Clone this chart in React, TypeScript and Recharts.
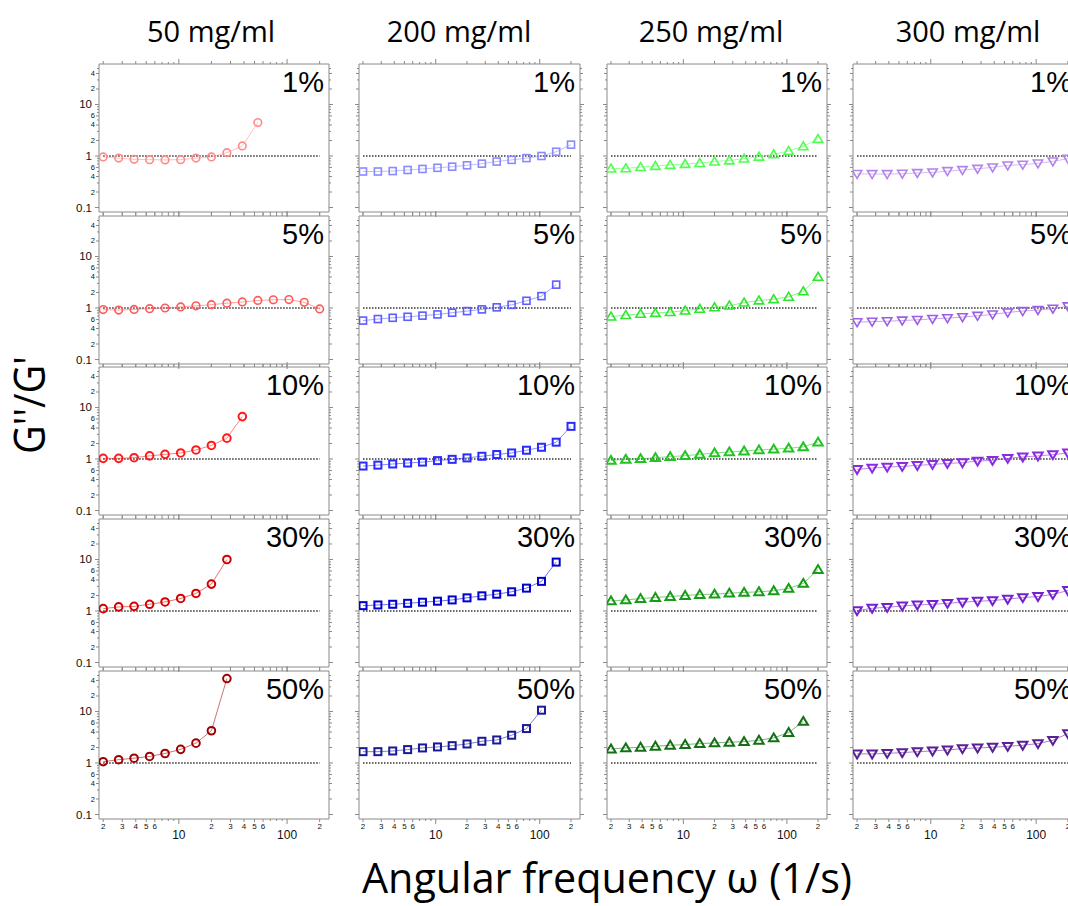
import * as React from 'react'
import { LineChart, Line, XAxis, YAxis, ReferenceLine } from 'recharts'

// angular frequency, 7 points per decade (1/s)
const freq = [2, 2.78, 3.86, 5.37, 7.46, 10.4, 14.4, 20, 27.8, 38.6, 53.7, 74.6, 104, 144, 200]

const xTicks = [2, 3, 4, 5, 6, 7, 8, 9, 10, 20, 30, 40, 50, 60, 70, 80, 90, 100, 200]
const yTicks = [0.1, 0.2, 0.3, 0.4, 0.5, 0.6, 0.7, 0.8, 0.9, 1, 2, 3, 4, 5, 6, 7, 8, 9, 10, 20, 30, 40, 50]

const concentrations = ['50 mg/ml', '200 mg/ml', '250 mg/ml', '300 mg/ml']
const strains = ['1%', '5%', '10%', '30%', '50%']

// G''/G' per concentration and strain
const c50_1 = [0.96, 0.91, 0.86, 0.85, 0.84, 0.85, 0.91, 0.96, 1.16, 1.57, 4.46]
const c50_5 = [0.93, 0.91, 0.94, 0.97, 1.0, 1.05, 1.1, 1.16, 1.24, 1.31, 1.4, 1.44, 1.46, 1.29, 0.96]
const c50_10 = [1.03, 1.03, 1.06, 1.15, 1.23, 1.31, 1.5, 1.83, 2.54, 6.65]
const c50_30 = [1.11, 1.2, 1.23, 1.35, 1.5, 1.75, 2.19, 3.33, 10.0]
const c50_50 = [1.06, 1.16, 1.24, 1.34, 1.53, 1.84, 2.43, 4.23, 43.6]

const c200_1 = [0.5, 0.5, 0.51, 0.535, 0.56, 0.59, 0.62, 0.66, 0.71, 0.78, 0.84, 0.91, 1.0, 1.21, 1.66]
const c200_5 = [0.57, 0.61, 0.645, 0.675, 0.71, 0.75, 0.81, 0.87, 0.94, 1.03, 1.15, 1.38, 1.7, 2.84]
const c200_10 = [0.73, 0.76, 0.8, 0.835, 0.87, 0.93, 0.985, 1.05, 1.13, 1.22, 1.31, 1.48, 1.69, 2.12, 4.3]
const c200_30 = [1.27, 1.31, 1.35, 1.41, 1.48, 1.55, 1.64, 1.8, 1.97, 2.12, 2.36, 2.78, 3.76, 8.9]
const c200_50 = [1.66, 1.66, 1.71, 1.82, 1.96, 2.05, 2.17, 2.34, 2.64, 2.8, 3.46, 4.66, 10.6]

const c250_1 = [0.57, 0.575, 0.61, 0.64, 0.67, 0.7, 0.73, 0.78, 0.82, 0.89, 0.97, 1.08, 1.25, 1.54, 2.14]
const c250_5 = [0.68, 0.73, 0.77, 0.8, 0.83, 0.89, 0.96, 1.03, 1.11, 1.27, 1.4, 1.48, 1.65, 2.1, 4.03]
const c250_10 = [0.94, 0.985, 1.015, 1.06, 1.11, 1.16, 1.23, 1.31, 1.37, 1.43, 1.5, 1.55, 1.62, 1.72, 2.12]
const c250_30 = [1.57, 1.64, 1.74, 1.83, 1.91, 2.0, 2.09, 2.12, 2.22, 2.29, 2.36, 2.47, 2.74, 3.43, 6.36]
const c250_50 = [1.87, 1.96, 2.02, 2.11, 2.21, 2.28, 2.38, 2.45, 2.53, 2.6, 2.76, 3.07, 3.9, 6.4]

const c300_1 = [0.45, 0.446, 0.446, 0.453, 0.467, 0.48, 0.51, 0.534, 0.566, 0.6, 0.658, 0.678, 0.72, 0.787, 0.887]
const c300_5 = [0.53, 0.545, 0.554, 0.571, 0.589, 0.616, 0.635, 0.665, 0.706, 0.75, 0.82, 0.873, 0.913, 0.97, 1.08]
const c300_10 = [0.627, 0.666, 0.697, 0.718, 0.75, 0.786, 0.822, 0.847, 0.913, 0.94, 1.03, 1.095, 1.145, 1.216, 1.31]
const c300_30 = [1.015, 1.13, 1.18, 1.25, 1.31, 1.35, 1.41, 1.48, 1.55, 1.59, 1.7, 1.82, 1.91, 2.1, 2.5]
const c300_50 = [1.5, 1.5, 1.54, 1.59, 1.66, 1.71, 1.79, 1.9, 1.96, 2.02, 2.11, 2.21, 2.38, 2.76, 3.72]

const series = [
  [c50_1, c50_5, c50_10, c50_30, c50_50],
  [c200_1, c200_5, c200_10, c200_30, c200_50],
  [c250_1, c250_5, c250_10, c250_30, c250_50],
  [c300_1, c300_5, c300_10, c300_30, c300_50],
]

const palette = [
  ['#ff8a8a', '#ff5a5a', '#ff1a1a', '#d40000', '#a00000'],
  ['#8a8aff', '#5c5cff', '#2a2aff', '#0000d0', '#1a1a99'],
  ['#4dff4d', '#2ee62e', '#22c422', '#169c16', '#157015'],
  ['#b383ec', '#9c5fe4', '#8a2be2', '#7420d0', '#5a1f96'],
]
const markers = ['circle', 'square', 'up', 'down']

// layout of the plot boxes (px)
const colLeft = [99, 359, 607, 853]
const colWidth = [230, 221, 220, 224]
const titleCenter = [211, 459, 711, 968]
const rowTop = [64, 216, 367, 519, 671]
const plotH = 148
// outer space around each plot box; the 1px axis bands are taken from it
const pad = { top: 10, right: 10, bottom: 26, left: 34 }
const margin = { top: pad.top - 1, right: pad.right - 1, bottom: pad.bottom - 1, left: pad.left - 1 }
const xDomain = [1.83, 244]
const yDomain = [0.0818, 61.1]

const axisColor = '#8a8a8a'
const labelFont = '"Liberation Sans", Arial, sans-serif'

const mantissa = (v: number) => Math.round(v / Math.pow(10, Math.floor(Math.log10(v) + 1e-9)))

const XTick = ({ x, y, payload, side, showLabel }: any) => {
  const m = mantissa(payload.value)
  const major = m === 1
  const len = major ? 5 : m <= 6 ? 3 : 2
  const dir = side === 'top' ? -1 : 1
  let label = null
  if (showLabel && side === 'bottom') {
    if (major) {
      label = (
        <text x={x} y={y + 20} textAnchor="middle" fontSize={12} fill="#111" fontFamily={labelFont}>
          {payload.value}
        </text>
      )
    } else if (m <= 6) {
      label = (
        <text x={x} y={y + 10} textAnchor="middle" fontSize={8} fill="#111" fontFamily={labelFont}>
          {m}
        </text>
      )
    }
  }
  return (
    <g>
      <line x1={x} y1={y} x2={x} y2={y + dir * len} stroke={axisColor} strokeWidth={1} />
      {label}
    </g>
  )
}

const YTick = ({ x, y, payload, side, showLabel }: any) => {
  const m = mantissa(payload.value)
  const major = m === 1
  const labeled = m === 2 || m === 4 || m === 6
  const len = major ? 4 : labeled ? 3 : 2
  const dir = side === 'left' ? -1 : 1
  let label = null
  if (showLabel && side === 'left') {
    if (major) {
      label = (
        <text x={x - 7} y={y} textAnchor="end" dominantBaseline="central" fontSize={11.5} fill="#111" fontFamily={labelFont}>
          {payload.value}
        </text>
      )
    } else if (labeled) {
      label = (
        <text x={x - 4} y={y} textAnchor="end" dominantBaseline="central" fontSize={7.5} fill="#111" fontFamily={labelFont}>
          {m}
        </text>
      )
    }
  }
  return (
    <g>
      <line x1={x} y1={y} x2={x + dir * len} y2={y} stroke={axisColor} strokeWidth={1} />
      {label}
    </g>
  )
}

const Marker = ({ cx, cy, shape, color, sw }: any) => {
  if (cx == null || cy == null) return null
  if (shape === 'circle') {
    return <circle cx={cx} cy={cy} r={3.8} fill="none" stroke={color} strokeWidth={sw} />
  }
  if (shape === 'square') {
    return <rect x={cx - 3.5} y={cy - 3.5} width={7} height={7} fill="none" stroke={color} strokeWidth={sw} />
  }
  const s = shape === 'up' ? 1 : -1
  const pts = `${cx},${cy - s * 4.5} ${cx - 4.7},${cy + s * 3.4} ${cx + 4.7},${cy + s * 3.4}`
  return <polygon points={pts} fill="none" stroke={color} strokeWidth={sw} strokeLinejoin="miter" />
}

function Panel({ col, row }: { col: number; row: number }) {
  const values = series[col][row]
  const data = values.map((v, i) => ({ w: freq[i], ratio: v }))
  const color = palette[col][row]
  const sw = row < 2 ? 1.6 : 2
  const width = colWidth[col] + pad.left + pad.right
  const height = plotH + pad.top + pad.bottom

  return (
    <div style={{ position: 'absolute', left: colLeft[col] - pad.left, top: rowTop[row] - pad.top }}>
      <LineChart width={width} height={height} data={data} margin={margin}>
        <XAxis
          xAxisId="b"
          dataKey="w"
          type="number"
          scale="log"
          domain={xDomain}
          allowDataOverflow
          ticks={xTicks}
          interval={0}
          height={1}
          tickSize={0}
          tickMargin={0}
          stroke={axisColor}
          tick={<XTick side="bottom" showLabel={row === 4} />}
        />
        <XAxis
          xAxisId="t"
          orientation="top"
          dataKey="w"
          type="number"
          scale="log"
          domain={xDomain}
          allowDataOverflow
          ticks={xTicks}
          interval={0}
          height={1}
          tickSize={0}
          tickMargin={0}
          stroke={axisColor}
          tick={<XTick side="top" />}
        />
        <YAxis
          yAxisId="l"
          type="number"
          scale="log"
          domain={yDomain}
          allowDataOverflow
          ticks={yTicks}
          interval={0}
          width={1}
          tickSize={0}
          tickMargin={0}
          stroke={axisColor}
          tick={<YTick side="left" showLabel={col === 0} />}
        />
        <YAxis
          yAxisId="r"
          orientation="right"
          type="number"
          scale="log"
          domain={yDomain}
          allowDataOverflow
          ticks={yTicks}
          interval={0}
          width={1}
          tickSize={0}
          tickMargin={0}
          stroke={axisColor}
          tick={<YTick side="right" />}
        />
        <ReferenceLine
          xAxisId="b"
          yAxisId="l"
          segment={[{ x: freq[0], y: 1 }, { x: freq[freq.length - 1], y: 1 }]}
          stroke="#333"
          strokeWidth={1.5}
          strokeDasharray="1.5 1.5"
        />
        <Line
          xAxisId="b"
          yAxisId="l"
          dataKey="ratio"
          type="linear"
          stroke={color}
          strokeOpacity={0.55}
          strokeWidth={1}
          dot={(p: any) => <Marker key={p.index} cx={p.cx} cy={p.cy} shape={markers[col]} color={color} sw={sw} />}
          activeDot={false}
          isAnimationActive={false}
        />
      </LineChart>
    </div>
  )
}

export default function App() {
  return (
    <div
      style={{
        position: 'absolute',
        left: 0,
        top: 0,
        width: 1068,
        height: 906,
        overflow: 'hidden',
        background: '#fff',
      }}
    >
      {concentrations.map((_, col) =>
        strains.map((__, row) => <Panel key={`${col}-${row}`} col={col} row={row} />)
      )}
      <svg width={1068} height={906} style={{ position: 'absolute', left: 0, top: 0, pointerEvents: 'none' }}>
        {concentrations.map((c, col) => (
          <text key={c} x={titleCenter[col]} y={41.5} textAnchor="middle" fontSize={29} fontFamily='"Open Sans", sans-serif' fill="#000">
            {c}
          </text>
        ))}
        {concentrations.map((c, col) =>
          strains.map((s, row) => (
            <text
              key={`${c}-${s}`}
              x={colLeft[col] + colWidth[col] - 5}
              y={rowTop[row] + 28}
              textAnchor="end"
              fontSize={29}
              fontFamily={labelFont}
              fill="#000"
            >
              {s}
            </text>
          ))
        )}
        <text
          transform="translate(45,405) rotate(-90)"
          textAnchor="middle"
          fontSize={44}
          fontFamily='"Open Sans", sans-serif'
          fill="#000"
          textLength={98}
          lengthAdjust="spacingAndGlyphs"
        >
          G''/G'
        </text>
        <text x={362} y={893} fontSize={42} fontFamily='"Open Sans", sans-serif' fill="#000" textLength={490} lengthAdjust="spacingAndGlyphs">
          Angular frequency ω (1/s)
        </text>
      </svg>
    </div>
  )
}
